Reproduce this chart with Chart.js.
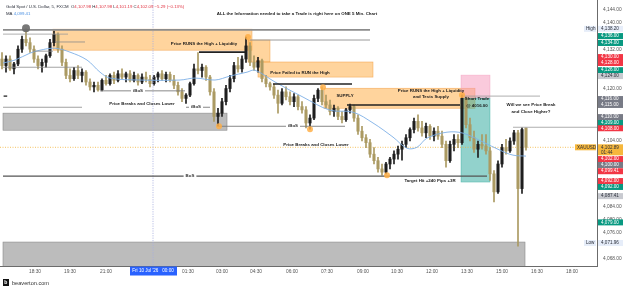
<!DOCTYPE html>
<html>
<head>
<meta charset="utf-8">
<script src="https://cdn.jsdelivr.net/npm/chart.js@4/dist/chart.umd.min.js"></script>
<style>
  html, body { margin: 0; padding: 0; background: #fff; }
  #wrap { width: 625px; height: 288px; }
</style>
</head>
<body>
<div id="wrap"><canvas id="c" width="625" height="288"></canvas></div>
<script>
// 10-minute candles: [open, high, low, close]
const candles = [
  [4129, 4131, 4126, 4127], [4127, 4130, 4125, 4129], [4129, 4130, 4125.5, 4126], [4126, 4128, 4124.5, 4127.5],
  [4127.5, 4133, 4127, 4132], [4132, 4136, 4131, 4135], [4135, 4138.2, 4133, 4134], [4134, 4135.5, 4131, 4132],
  [4132, 4133, 4128, 4129], [4129, 4130, 4126, 4127], [4127, 4129, 4125, 4128], [4128, 4130.5, 4126.5, 4130],
  [4130, 4135, 4129.5, 4134], [4134, 4137.5, 4133, 4136.5], [4136.5, 4137, 4131, 4132], [4132, 4133, 4127, 4128],
  [4128, 4129, 4123, 4124], [4124, 4126, 4122, 4123], [4123, 4126.5, 4122.5, 4125.5], [4125.5, 4127, 4123, 4124],
  [4124, 4126, 4122, 4125], [4125, 4125.5, 4121, 4122], [4122, 4123, 4119.5, 4120.5], [4120.5, 4122, 4119, 4121],
  [4121, 4122, 4119.2, 4119.6], [4119.6, 4123, 4119.3, 4122.5], [4122.5, 4124, 4121, 4121.5], [4121.5, 4124.5, 4121, 4124],
  [4124, 4125, 4121.5, 4122.5], [4122.5, 4125.5, 4122, 4124.5], [4124.5, 4126, 4123, 4123.5], [4123.5, 4125, 4122, 4124.5],
  [4124.5, 4125.5, 4122, 4122.5], [4122.5, 4125, 4122, 4124], [4124, 4124.5, 4121, 4122], [4122, 4124.5, 4121.5, 4123.5],
  [4123.5, 4125, 4122, 4122.8], [4122.8, 4124, 4120.5, 4121.5], [4121.5, 4124, 4121, 4123.5], [4123.5, 4125, 4122, 4124.5],
  [4124.5, 4125.5, 4122.5, 4123], [4123, 4125, 4122, 4124.3], [4124.3, 4125, 4122, 4122.6], [4122.6, 4124, 4120, 4121],
  [4121, 4122, 4118, 4119], [4119, 4120, 4116, 4117], [4117, 4118.5, 4115.5, 4118], [4118, 4122, 4117.5, 4121.5],
  [4121.5, 4127.5, 4121, 4126], [4126, 4131, 4124.5, 4125.5], [4125.5, 4127.5, 4123.5, 4126.5], [4126.5, 4127, 4122.5, 4123.5],
  [4123.5, 4124, 4118, 4119], [4119, 4120, 4110, 4111.5], [4111.5, 4114, 4108.5, 4112.5], [4112.5, 4117, 4111.5, 4116],
  [4116, 4121, 4115, 4120], [4120, 4124, 4119, 4123], [4123, 4128, 4122, 4127], [4127, 4129.5, 4125, 4126],
  [4126, 4130, 4125, 4129], [4129, 4135.7, 4128, 4133], [4133, 4134, 4127, 4128], [4128, 4130, 4125.5, 4126.5],
  [4126.5, 4129.5, 4125, 4128.5], [4128.5, 4129, 4122, 4123], [4123, 4124, 4120.5, 4121.5], [4121.5, 4122, 4119.5, 4120.5],
  [4120.5, 4121.4, 4117, 4118], [4118, 4119.5, 4112.5, 4115.5], [4115.5, 4120, 4115, 4119], [4119, 4120.5, 4116.5, 4117.5],
  [4117.5, 4119, 4115, 4116], [4116, 4118.5, 4114.5, 4117.5], [4117.5, 4118, 4113.5, 4114.5], [4114.5, 4116, 4112.5, 4113.5],
  [4113.5, 4114.5, 4108, 4109.5], [4109.5, 4112, 4107.6, 4111], [4111, 4118, 4110.5, 4117], [4117, 4120, 4116, 4119.5],
  [4119.5, 4120.5, 4115, 4116], [4116, 4118, 4114, 4115], [4115, 4116.5, 4112, 4113], [4113, 4115, 4111.5, 4114],
  [4114, 4114.5, 4110.5, 4111.5], [4111.5, 4113, 4109.5, 4110.5], [4110.5, 4114, 4110, 4113.5], [4113.5, 4115.3, 4112.5, 4114.5],
  [4114.5, 4115, 4110, 4111], [4111, 4112, 4106, 4107], [4107, 4108.5, 4104, 4105], [4105, 4106, 4102, 4103.5],
  [4103.5, 4104.5, 4099, 4100], [4100, 4102, 4097, 4098], [4098, 4099, 4094.5, 4095.5], [4095.5, 4097, 4093.6, 4094.5],
  [4094.5, 4097.5, 4094, 4097], [4097, 4099, 4095.5, 4098.5], [4098.5, 4101, 4097, 4100], [4100, 4102.5, 4098.5, 4101.5],
  [4101.5, 4104, 4098.2, 4103], [4103, 4106, 4102, 4105], [4105, 4108, 4104, 4107.5], [4107.5, 4111, 4106.5, 4110],
  [4110, 4112, 4107, 4108], [4108, 4110, 4105.5, 4106.5], [4106.5, 4109.5, 4105, 4108.5], [4108.5, 4109, 4104.5, 4105.5],
  [4105.5, 4108, 4104, 4107], [4107, 4108.5, 4104.5, 4105.5], [4105.5, 4107, 4102, 4103], [4103, 4104, 4096, 4098],
  [4098, 4104, 4097.5, 4103], [4103, 4106, 4101, 4104.5], [4104.5, 4106, 4102, 4103.5], [4103.5, 4118, 4103, 4117],
  [4117, 4117.5, 4108, 4109], [4109, 4111, 4104, 4105], [4105, 4107, 4100.5, 4101.5], [4101.5, 4104, 4099, 4103],
  [4103, 4106, 4101.5, 4102.5], [4102.5, 4106, 4100, 4101], [4101, 4102, 4092, 4094], [4094, 4095, 4085.4, 4088.5],
  [4088.5, 4098, 4088, 4097], [4097, 4103, 4096, 4102], [4102, 4104.5, 4100, 4101], [4101, 4105, 4100.5, 4104],
  [4104, 4107.3, 4103, 4106.5], [4106.5, 4107.3, 4071.96, 4089.5], [4089.5, 4108, 4088, 4107.5], [4107.98, 4107.98, 4101.19, 4102.09]
];

// moving average: [candle index, value]
const maPoints = [
  [0.25, 4127.8], [3.25, 4128.7], [7, 4130.8], [9.5, 4131.7], [13.25, 4132.3], [17, 4131.1], [21.25, 4128.7],
  [24.5, 4125], [27, 4123.2], [34.5, 4122.6], [44.5, 4122.6], [48.25, 4123.2], [53.25, 4122.6], [57, 4123.8],
  [61.25, 4125], [63.25, 4125.6], [68.25, 4122], [75.25, 4117.4], [82, 4113.4], [87.75, 4112.8], [92.75, 4109.5],
  [97.75, 4105.2], [101.25, 4101.8], [103.75, 4102.1], [106.25, 4104.9], [111.25, 4106.7], [115.25, 4106.4],
  [120.25, 4103.7], [124.5, 4101.2], [127.75, 4099.7], [131, 4099.41]
];

const timeTickIdx = [8.25, 17, 26, 46.5, 55, 63.5, 72.5, 81.25, 90.25, 98.75, 107.5, 116.25, 125, 133.75, 142.5];
const timeTickLabels = ["18:30", "19:30", "21:00", "01:30", "03:00", "04:30", "06:00", "07:30", "09:00",
  "10:30", "12:00", "13:30", "15:00", "16:30", "18:00"];
const priceTickVals = [4144, 4140, 4132, 4120, 4104, 4084, 4080, 4076, 4068];

// price-scale tags: level shown, text, kind
const tagLevels = [4138.2, 4136.0, 4133.9, 4129.6, 4127.8, 4125.6, 4123.8, 4116.8, 4115.0, 4111.3, 4109.5, 4107.9,
  4102.09, 4098.5, 4096.7, 4094.8, 4091.8, 4090.0, 4087.2, 4079.2, 4072.9];
const tagTexts = ["4,138.20", "4,136.00", "4,134.00", "4,130.00", "4,128.00", "4,126.00", "4,124.00", "4,116.00",
  "4,115.00", "4,110.00", "4,109.00", "4,108.00", "4,102.89", "4,102.00", "4,100.00", "4,099.41", "4,092.00",
  "4,092.00", "4,087.41", "4,079.00", "4,071.96"];
const tagKinds = ["hi", "g", "g", "r", "r", "g", "lg", "dg", "dg", "dg", "g", "r", "last", "r", "dg", "r", "r", "g", "lg", "g", "lo"];

const lastClose = 4102.09;

const UP = "#1e1e1e", DN = "#ab9a62";
const colOf = c => (c[3] >= c[0] ? UP : DN);
const fmt = v => v.toLocaleString("en-US", { minimumFractionDigits: 2, maximumFractionDigits: 2 });

// drawings on the chart, in data units
const zones = [
  { x0: 12.75, x1: 62.5, y0: 4138.1, y1: 4131.7, k: "o" },
  { x0: 61.5, x1: 67, y0: 4134.8, y1: 4128.1, k: "o" },
  { x0: 64, x1: 92.75, y0: 4128.1, y1: 4123.5, k: "o" },
  { x0: 80.5, x1: 118.25, y0: 4120.1, y1: 4114.0, k: "o" },
  { x0: 0.25, x1: 56.25, y0: 4112.5, y1: 4107.3, k: "g" },
  { x0: 0.25, x1: 130.75, y0: 4073.2, y1: 4060, k: "g" },
  { x0: 114.75, x1: 122, y0: 4124.1, y1: 4117.1, k: "p" },
  { x0: 114.75, x1: 122, y0: 4117.1, y1: 4091.5, k: "t" }
];
const zoneStyle = {
  o: ["rgba(255,170,60,0.5)", "rgba(240,150,50,0.7)"],
  g: ["rgba(140,140,140,0.58)", "#8a8a8a"],
  p: ["rgba(245,150,185,0.5)", "rgba(240,150,185,0.6)"],
  t: ["rgba(38,166,154,0.5)", "rgba(38,166,154,0.6)"]
};
const rays = [
  { x0: 0.25, x1: 92, p: 4137.9, c: "#8c8c8c", w: 1.6 },
  { x0: 62, x1: 92, p: 4134.8, c: "#9a9a9a", w: 1 },
  { x0: 0.25, x1: 16.5, p: 4136.6, c: "#9a9a9a", w: 0.8 },
  { x0: 13.25, x1: 20.75, p: 4134.2, c: "#8a8a8a", w: 0.8 },
  { x0: 7.75, x1: 12.75, p: 4131.4, c: "#8a8a8a", w: 0.8 },
  { x0: 0.25, x1: 20, p: 4126.5, c: "#8a8a8a", w: 0.8 },
  { x0: 0.25, x1: 20, p: 4114.3, c: "#8a8a8a", w: 0.8 },
  { x0: 0.4, x1: 1.3, p: 4117.7, c: "#111", w: 1.2 },
  { x0: 24.5, x1: 45.75, p: 4119.3, c: "#7a7a7a", w: 0.9, label: "iBoS", at: 34 },
  { x0: 46, x1: 52, p: 4114.3, c: "#7a7a7a", w: 0.9, label: "iBoS", at: 48.5 },
  { x0: 54.25, x1: 85.75, p: 4108.5, c: "#7a7a7a", w: 0.9, label: "iBoS", at: 72.75 },
  { x0: 0.25, x1: 121.25, p: 4093.3, c: "#555", w: 1.3, label: "BoS", at: 47 },
  { x0: 49.25, x1: 60.75, p: 4131.1, c: "#222", w: 1.6 },
  { x0: 67.75, x1: 87.5, p: 4121.4, c: "#222", w: 1.6 },
  { x0: 86.25, x1: 114.5, p: 4115.0, c: "#222", w: 1.6 },
  { x0: 114.75, x1: 134.5, p: 4117.7, c: "#9a9a9a", w: 0.8 },
  { x0: 127.75, x1: 148.75, p: 4108.2, c: "#9a9a9a", w: 0.8 }
];
const dots = [
  { i: 6, p: 4138.4, c: "rgba(105,105,105,0.9)", r: 4 },
  { i: 61.5, p: 4135.7, c: "rgba(255,175,70,0.85)", r: 3 },
  { i: 54.25, p: 4108.5, c: "rgba(255,175,70,0.85)", r: 3 },
  { i: 77, p: 4107.6, c: "rgba(255,175,70,0.85)", r: 3 },
  { i: 80.25, p: 4120.4, c: "rgba(255,175,70,0.85)", r: 3 },
  { i: 96.25, p: 4093.6, c: "rgba(255,175,70,0.85)", r: 3 },
  { i: 115, p: 4118, c: "rgba(255,175,70,0.85)", r: 3 }
];
const notes = [
  { i: 73.75, p: 4142.7, t: "ALL the Information needed to take a Trade is right here on ONE 5 Min. Chart" },
  { i: 50.5, p: 4133.5, t: "Price RUNS the High + Liquidity" },
  { i: 74.5, p: 4124.7, t: "Price Failed to RUN the High" },
  { i: 85.75, p: 4117.7, t: "SUPPLY" },
  { i: 107.25, p: 4119.3, t: "Price RUNS the High + Liquidity" },
  { i: 107.25, p: 4117.4, t: "and Tests Supply" },
  { i: 118.75, p: 4116.8, t: "Short Trade" },
  { i: 118.75, p: 4114.7, t: "@ 4016.00" },
  { i: 132.25, p: 4115.0, t: "Will we see Price Break" },
  { i: 132.25, p: 4112.8, t: "and Close Higher?" },
  { i: 35, p: 4115.3, t: "Price Breaks and Closes Lower" },
  { i: 78.5, p: 4103, t: "Price Breaks and Closes Lower" },
  { i: 107, p: 4091.8, t: "Target Hit +240 Pips +3R" }
];
const crossIdx = 37.75;

const NOTE_FONT = "bold 4.4px 'Liberation Sans', Arial, sans-serif";

const annot = {
  id: "annot",
  beforeDatasetsDraw(chart) {
    const { ctx, chartArea: a, scales: { x, y } } = chart;
    ctx.save();
    ctx.beginPath();
    ctx.rect(a.left, a.top, a.right - a.left, a.bottom - a.top);
    ctx.clip();
    zones.forEach(z => {
      const x0 = x.getPixelForValue(z.x0), x1 = x.getPixelForValue(z.x1);
      const y0 = y.getPixelForValue(z.y0), y1 = y.getPixelForValue(z.y1);
      ctx.fillStyle = zoneStyle[z.k][0];
      ctx.fillRect(x0, y0, x1 - x0, y1 - y0);
      ctx.strokeStyle = zoneStyle[z.k][1];
      ctx.lineWidth = 0.6;
      ctx.strokeRect(x0, y0, x1 - x0, y1 - y0);
    });
    // last price dotted line
    const yl = y.getPixelForValue(lastClose);
    ctx.strokeStyle = "#f2b43a";
    ctx.lineWidth = 0.8;
    ctx.setLineDash([1, 1.5]);
    ctx.beginPath(); ctx.moveTo(a.left, yl); ctx.lineTo(a.right, yl); ctx.stroke();
    ctx.restore();
  },
  afterDatasetsDraw(chart) {
    const { ctx, chartArea: a, scales: { x, y } } = chart;
    ctx.save();
    ctx.beginPath();
    ctx.rect(a.left, a.top, a.right - a.left, a.bottom - a.top);
    ctx.clip();
    // crosshair
    const xc = x.getPixelForValue(crossIdx);
    ctx.strokeStyle = "#a7aee0";
    ctx.lineWidth = 0.8;
    ctx.setLineDash([1.2, 1.2]);
    ctx.beginPath(); ctx.moveTo(xc, a.top); ctx.lineTo(xc, a.bottom); ctx.stroke();
    ctx.setLineDash([]);

    ctx.font = NOTE_FONT;
    ctx.textAlign = "center";
    ctx.textBaseline = "middle";
    rays.forEach(r => {
      const x0 = x.getPixelForValue(r.x0), x1 = x.getPixelForValue(r.x1), yy = y.getPixelForValue(r.p);
      ctx.strokeStyle = r.c;
      ctx.lineWidth = r.w;
      ctx.beginPath(); ctx.moveTo(x0, yy); ctx.lineTo(x1, yy); ctx.stroke();
      if (r.label) {
        const xl = x.getPixelForValue(r.at), tw = ctx.measureText(r.label).width;
        ctx.fillStyle = "#fff";
        ctx.fillRect(xl - tw / 2 - 2, yy - 2.5, tw + 4, 5);
        ctx.fillStyle = "#333";
        ctx.fillText(r.label, xl, yy);
      }
    });
    dots.forEach(d => {
      ctx.fillStyle = d.c;
      ctx.beginPath();
      ctx.arc(x.getPixelForValue(d.i), y.getPixelForValue(d.p), d.r, 0, Math.PI * 2);
      ctx.fill();
    });
    ctx.fillStyle = "#1a1a1a";
    notes.forEach(n => ctx.fillText(n.t, x.getPixelForValue(n.i), y.getPixelForValue(n.p)));
    ctx.restore();
  },
  afterDraw(chart) {
    const { ctx, chartArea: a, scales: { x, y } } = chart;
    ctx.save();
    ctx.textBaseline = "middle";
    // price scale tags
    const tf = "4.6px 'Liberation Sans', Arial, sans-serif";
    tagLevels.forEach((lv, k) => {
      const yy = y.getPixelForValue(lv), kind = tagKinds[k];
      const bg = { g: "#089981", r: "#f23645", dg: "#787b86", lg: "#c8cad0", last: "#f6b73c", hi: "#e6edf9", lo: "#e6edf9" }[kind];
      const fg = (kind === "lg" || kind === "hi" || kind === "lo" || kind === "last") ? "#2a2e39" : "#fff";
      const h = kind === "last" ? 11 : 6;
      ctx.fillStyle = bg;
      ctx.fillRect(a.right + 1, yy - 3, 25, h);
      ctx.fillStyle = fg;
      ctx.font = tf;
      ctx.textAlign = "left";
      ctx.fillText(tagTexts[k], a.right + 4, yy);
      if (kind === "last") {
        ctx.fillText("01:44", a.right + 4, yy + 5);
        ctx.fillStyle = bg;
        ctx.fillRect(a.right - 22, yy - 3, 21, 6);
        ctx.fillStyle = "#2a2e39";
        ctx.fillText("XAUUSD", a.right - 20, yy);
      }
      if (kind === "hi" || kind === "lo") {
        ctx.fillStyle = bg;
        ctx.fillRect(a.right - 13, yy - 3, 12, 6);
        ctx.fillStyle = "#2a2e39";
        ctx.fillText(kind === "hi" ? "High" : "Low", a.right - 11, yy);
      }
    });

    // crosshair time label
    const xc = x.getPixelForValue(crossIdx);
    ctx.fillStyle = "#2962ff";
    ctx.fillRect(xc - 23, a.bottom + 0.5, 47, 9);
    ctx.fillStyle = "#fff";
    ctx.textAlign = "center";
    ctx.font = "4.6px 'Liberation Sans', Arial, sans-serif";
    ctx.fillText("Fri 10 Jul '26   00:00", xc, a.bottom + 5);

    // header
    ctx.textAlign = "left";
    ctx.font = "4.3px 'Liberation Sans', Arial, sans-serif";
    const red = "#e0303f", ink = "#2a2e39";
    let hx = 6;
    [["Gold Spot / U.S. Dollar, 5, FXCM  ", ink], ["O", ink], ["4,107.98 ", red], ["H", ink], ["4,107.98 ", red],
     ["L", ink], ["4,101.19 ", red], ["C", ink], ["4,102.09 \u22125.29 (\u22120.13%)", red]].forEach(([t, c]) => {
      ctx.fillStyle = c; ctx.fillText(t, hx, 7); hx += ctx.measureText(t).width;
    });
    ctx.fillStyle = ink; ctx.fillText("MA ", 6, 14);
    ctx.fillStyle = "#4a90e2"; ctx.fillText("4,099.41", 6 + ctx.measureText("MA ").width, 14);

    // watermark
    ctx.fillStyle = "#111";
    ctx.fillRect(3, 279, 6, 7);
    ctx.fillStyle = "#fff";
    ctx.font = "bold 5px 'Liberation Sans', Arial, sans-serif";
    ctx.fillText("b", 4.3, 283);
    ctx.fillStyle = "#333";
    ctx.font = "5.6px 'Liberation Sans', Arial, sans-serif";
    ctx.fillText("beaverton.com", 12, 283);
    ctx.restore();
  }
};

new Chart(document.getElementById("c"), {
  type: "bar",
  data: {
    datasets: [
      {
        data: candles.map((c, i) => ({ x: i, y: [c[2], c[1]] })),
        backgroundColor: candles.map(colOf),
        barThickness: 1,
        grouped: false,
        order: 2
      },
      {
        data: candles.map((c, i) => ({ x: i, y: [c[0], c[3]] })),
        backgroundColor: candles.map(colOf),
        barThickness: 2.4,
        minBarLength: 0.8,
        grouped: false,
        order: 1
      },
      {
        type: "line",
        data: maPoints.map(([i, v]) => ({ x: i, y: v })),
        borderColor: "#7eb0e6",
        borderWidth: 0.9,
        pointRadius: 0,
        tension: 0.35,
        order: 0
      }
    ]
  },
  options: {
    responsive: false,
    animation: false,
    devicePixelRatio: 1,
    layout: { padding: 0, autoPadding: false },
    plugins: { legend: { display: false }, tooltip: { enabled: false } },
    scales: {
      x: {
        type: "linear",
        min: -0.5,
        max: 148.75,
        offset: false,
        grid: { display: false, drawTicks: false },
        border: { color: "#6b6b6b" },
        afterBuildTicks: s => { s.ticks = timeTickIdx.map(v => ({ value: v })); },
        afterFit: s => { s.height = 22; s.paddingLeft = 0; s.paddingRight = 0; },
        ticks: {
          autoSkip: false, maxRotation: 0, padding: 3, color: "#555",
          font: { size: 4.8, family: "'Liberation Sans', Arial, sans-serif" },
          callback: (v, k) => timeTickLabels[k]
        }
      },
      y: {
        position: "right",
        min: 4065.9,
        max: 4147,
        grid: { display: false, drawTicks: false },
        border: { color: "#6b6b6b" },
        afterBuildTicks: s => { s.ticks = priceTickVals.map(v => ({ value: v })); },
        afterFit: s => { s.width = 28; s.paddingTop = 0; s.paddingBottom = 0; },
        ticks: {
          padding: 6, color: "#555",
          font: { size: 4.8, family: "'Liberation Sans', Arial, sans-serif" },
          callback: v => fmt(v)
        }
      }
    }
  },
  plugins: [annot]
});
</script>
</body>
</html>
